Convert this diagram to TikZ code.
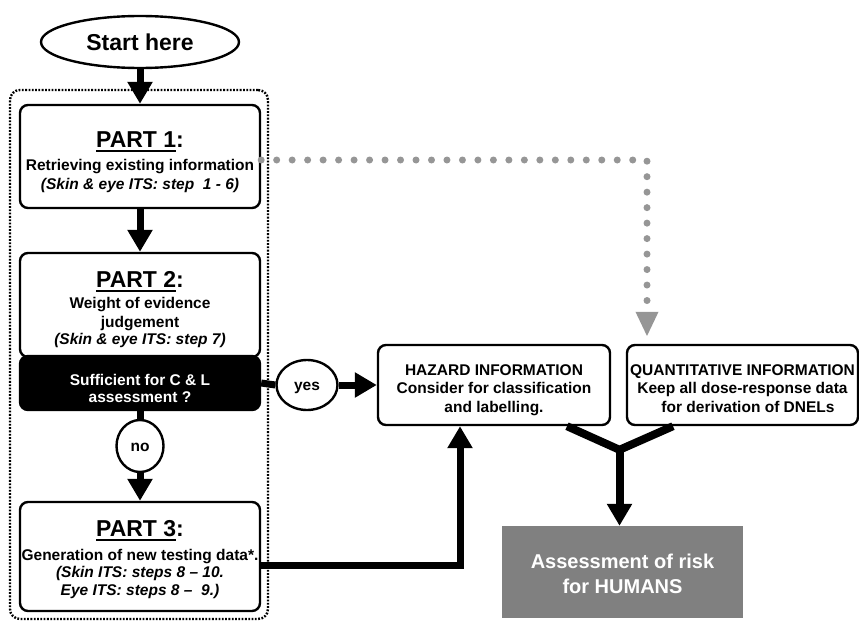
\documentclass[tikz,border=0pt]{standalone}
\usepackage{fontspec}
\setmainfont{Liberation Sans}
\usetikzlibrary{shapes.geometric,arrows.meta,calc}
\definecolor{assessgray}{RGB}{128,128,128}
\definecolor{dotgray}{RGB}{150,150,150}
\newcommand{\myul}[1]{\leavevmode\vtop{\hbox{#1}\kern3pt\hrule height 2pt}}
\begin{document}
\begin{tikzpicture}[x=1pt,y=-1pt,
  boxstyle/.style={draw,line width=2.4pt,rounded corners=8pt,fill=white,inner sep=0pt},
  ovalstyle/.style={ellipse,draw,line width=2.4pt,fill=white,inner sep=0pt},
  frame/.style={draw,line width=2.4pt,dash pattern=on 1.8pt off 1.5pt,rounded corners=10pt,inner sep=0pt},
  txt/.style={font=\fontsize{15.5}{18}\selectfont\bfseries,inner sep=0pt,anchor=base},
  itxt/.style={font=\fontsize{15.5}{18}\selectfont\bfseries\itshape,inner sep=0pt,anchor=base},
  headtxt/.style={font=\fontsize{23}{26}\selectfont\bfseries,inner sep=0pt,anchor=base},
  bigtxt/.style={font=\fontsize{20}{24}\selectfont\bfseries,inner sep=0pt,anchor=base,text=white},
  bigarrow/.style={line width=7pt,-{Triangle[width=24pt,length=22pt]}},
  bigline/.style={line width=7pt},
  greyarrow/.style={dotgray,line width=7pt,line cap=round,dash pattern=on 0pt off 15.48pt,-{Triangle[width=21pt,length=25pt]}}
]
\useasboundingbox (0,0) rectangle (859,623);

% dotted frame
\node[frame,minimum width=258pt,minimum height=529pt] (frame) at (139,354.5) {};

% start
\node[ovalstyle,minimum width=198pt,minimum height=52pt,font=\fontsize{23}{26}\selectfont\bfseries] (start) at (140,42) {Start here};

% boxes
\node[boxstyle,minimum width=240pt,minimum height=103pt] (p1) at (140,156.5) {};
\node[boxstyle,minimum width=240pt,minimum height=104pt] (p2) at (140,305) {};
\node[boxstyle,fill=black,minimum width=240pt,minimum height=54pt] (suff) at (140,383) {};
\node[boxstyle,minimum width=240pt,minimum height=109pt] (p3) at (140,556.5) {};
\node[ovalstyle,minimum width=47pt,minimum height=52pt] (no) at (140,446) {};
\node[ovalstyle,minimum width=61pt,minimum height=50pt] (yes) at (307,385) {};
\node[boxstyle,minimum width=232pt,minimum height=80pt] (hazard) at (494,385) {};
\node[boxstyle,minimum width=231pt,minimum height=80pt] (quant) at (742.5,385) {};
\node[fill=assessgray,inner sep=0pt,minimum width=241pt,minimum height=92pt] (assess) at (622.5,572) {};

% texts
\node[headtxt] (p1a) at (140,147) {\myul{PART 1}:};
\node[txt] (p1b) at (140,170) {Retrieving existing information};
\node[itxt] (p1c) at (140,189) {(Skin \& eye ITS: step\ \ 1 - 6)};

\node[headtxt] (p2a) at (140,287) {\myul{PART 2}:};
\node[txt] (p2b) at (140,308) {Weight of evidence};
\node[txt] (p2c) at (140,327) {judgement};
\node[itxt] (p2d) at (140,344) {(Skin \& eye ITS: step 7)};

\node[txt,text=white] (s1) at (140,385) {Sufficient for C \& L};
\node[txt,text=white] (s2) at (140,402) {assessment ?};

\node[txt] (notxt) at (140,451) {no};
\node[txt] (yestxt) at (307,390) {yes};

\node[headtxt] (p3a) at (140,536) {\myul{PART 3}:};
\node[txt] (p3b) at (140,560) {Generation of new testing data*.};
\node[itxt] (p3c) at (140,577) {(Skin ITS: steps 8 – 10.};
\node[itxt] (p3d) at (140,595) {Eye ITS: steps 8 –\ \ 9.)};

\node[txt] (h1) at (494,375) {HAZARD INFORMATION};
\node[txt] (h2) at (494,393) {Consider for classification};
\node[txt] (h3) at (494,412) {and labelling.};

\node[txt] (q1) at (742.5,375) {QUANTITATIVE INFORMATION};
\node[txt] (q2) at (742.5,393) {Keep all dose-response data};
\node[txt] (q3) at (748,412) {for derivation of DNELs};

\node[bigtxt] (a1) at (622.5,568) {Assessment of risk};
\node[bigtxt] (a2) at (622.5,593) {for HUMANS};

% connectors
\draw[bigarrow] (start.south) -- (p1.north);
\draw[bigarrow] (p1.south) -- (p2.north);
\draw[bigline] (suff.south) -- (no.north);
\draw[bigarrow] (no.south) -- (p3.north);
\draw[bigline] (suff.east) -- (yes.west);
\draw[bigarrow] (yes.east) -- (hazard.west);
\draw[bigarrow] ($(p3.east)+(0,8.5)$) -| ($(hazard.south)+(-34,0)$);

\coordinate (m) at ($(assess.north)+(-3,-76)$);
\draw[line width=8pt] ($(hazard.south)+(73,0)$) -- (m) -- ($(quant.south)+(-69.5,0)$);
\draw[line width=8pt,-{Triangle[width=24pt,length=22pt]}] (m) -- (m |- assess.north);

\draw[greyarrow] ($(p1.east)+(0,3.5)$) -| ($(quant.north)+(-95.5,-7)$);
\end{tikzpicture}
\end{document}
